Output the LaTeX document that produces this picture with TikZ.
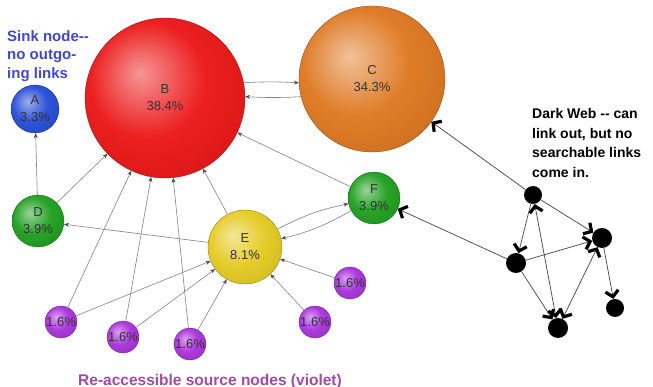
\documentclass[tikz,border=0pt]{standalone}
\usepackage{fontspec}
\setmainfont{Liberation Sans}
\usetikzlibrary{arrows.meta}

\definecolor{sinkblue}{RGB}{63,72,204}
\definecolor{srcviolet}{RGB}{163,73,164}
\definecolor{pgblue}{RGB}{35,75,215}
\definecolor{pgred}{RGB}{235,20,20}
\definecolor{pgorange}{RGB}{222,118,30}
\definecolor{pggreen}{RGB}{28,158,28}
\definecolor{pgyellow}{RGB}{228,202,32}
\definecolor{pgviolet}{RGB}{168,48,218}

\colorlet{orbcol}{red}
\pgfdeclareradialshading[orbcol]{orb}{\pgfpoint{-8bp}{8bp}}{color(0bp)=(orbcol!45!white); color(18bp)=(orbcol!95!white); color(42bp)=(orbcol!88!black); color(60bp)=(orbcol!80!black)}

\tikzset{
  page/.style={circle, draw=#1!55!black, line width=0.3pt, /utils/exec={\colorlet{orbcol}{#1}}, shading=orb,
    text=black!80, align=center, inner sep=0pt, font=\fontsize{13}{17}\selectfont},
  link/.style={gray, line width=0.6pt, -{Stealth[length=5pt,width=4pt,color=black!70]}},
  dark/.style={circle, fill=black, inner sep=0pt},
  barb/.tip={Straight Barb[length=6pt,width=13pt,line width=3.2pt,color=black]},
  dlink/.style={black!75, line width=0.7pt, -barb},
  dboth/.style={black!75, line width=0.7pt, barb-barb}
}

\begin{document}
\begin{tikzpicture}[x=1pt, y=-1pt]
  \useasboundingbox (0,0) rectangle (653,387);

  % pages and their rank
  \node[page=pgred, minimum size=160pt] (B) at (165,98) {B\\38.4\%};
  \node[page=pgorange, minimum size=146pt] (C) at (372,79) {C\\34.3\%};
  \node[page=pgblue, minimum size=48pt] (A) at (35,109) {A\\3.3\%};
  \node[page=pggreen, minimum size=52pt] (D) at (38,221) {D\\3.9\%};
  \node[page=pgyellow, minimum size=74pt] (E) at (245,247) {E\\8.1\%};
  \node[page=pggreen, minimum size=52pt] (F) at (374,198) {F\\3.9\%};
  \node[page=pgviolet, minimum size=32pt] (s1) at (61,322) {1.6\%};
  \node[page=pgviolet, minimum size=32pt] (s2) at (123,337) {1.6\%};
  \node[page=pgviolet, minimum size=32pt] (s3) at (190,344) {1.6\%};
  \node[page=pgviolet, minimum size=32pt] (s4) at (315,322) {1.6\%};
  \node[page=pgviolet, minimum size=32pt] (s5) at (350,283) {1.6\%};

  \draw[link] (B.11) to[bend left=3] (C.183);
  \draw[link] (C.194) to[bend left=3] (B.1);
  \draw[link] (D) -- (A);
  \draw[link] (D) -- (B);
  \draw[link] (E) -- (B);
  \draw[link] (F) -- (B);
  \draw[link] (E) -- (D);
  \draw[link] (E) to[bend left=8] (F);
  \draw[link] (F) to[bend left=8] (E);
  \foreach \s in {s1,s2,s3} {
    \draw[link] (\s) -- (B);
  }
  \foreach \s in {s1,s2,s3,s4,s5} {
    \draw[link] (\s) -- (E);
  }

  % dark web
  \node[dark, minimum size=18pt] (w1) at (533,195) {};
  \node[dark, minimum size=20pt] (w2) at (602,238) {};
  \node[dark, minimum size=20pt] (w3) at (516,263) {};
  \node[dark, minimum size=20pt] (w4) at (558,328) {};
  \node[dark, minimum size=18pt] (w5) at (615,308) {};

  \draw[dlink] (w1) -- (C);
  \draw[dlink] (w3) -- (F);
  \draw[dlink] (w1) -- (w2);
  \draw[dlink] (w1) -- (w3);
  \draw[dboth] (w1) -- (w4);
  \draw[dlink] (w3) -- (w2);
  \draw[dlink] (w3) -- (w4);
  \draw[dboth] (w2) -- (w4);
  \draw[dlink] (w2) -- (w5);

  % notes
  \node[anchor=north west, inner sep=0pt, align=left, text=sinkblue, font=\bfseries\fontsize{15}{18.5}\selectfont] (sinknote) at (7,30) {Sink node-{}-\\no outgo-\\ing links};
  \node[anchor=north west, inner sep=0pt, align=left, font=\bfseries\fontsize{14}{19.8}\selectfont] (darknote) at (532,108) {Dark Web -{}- can\\link out, but no\\searchable links\\come in.};
  \node[anchor=base, inner sep=0pt, text=srcviolet, font=\bfseries\fontsize{15.5}{18}\selectfont] (srcnote) at (210,385) {Re-accessible source nodes (violet)};
\end{tikzpicture}
\end{document}
